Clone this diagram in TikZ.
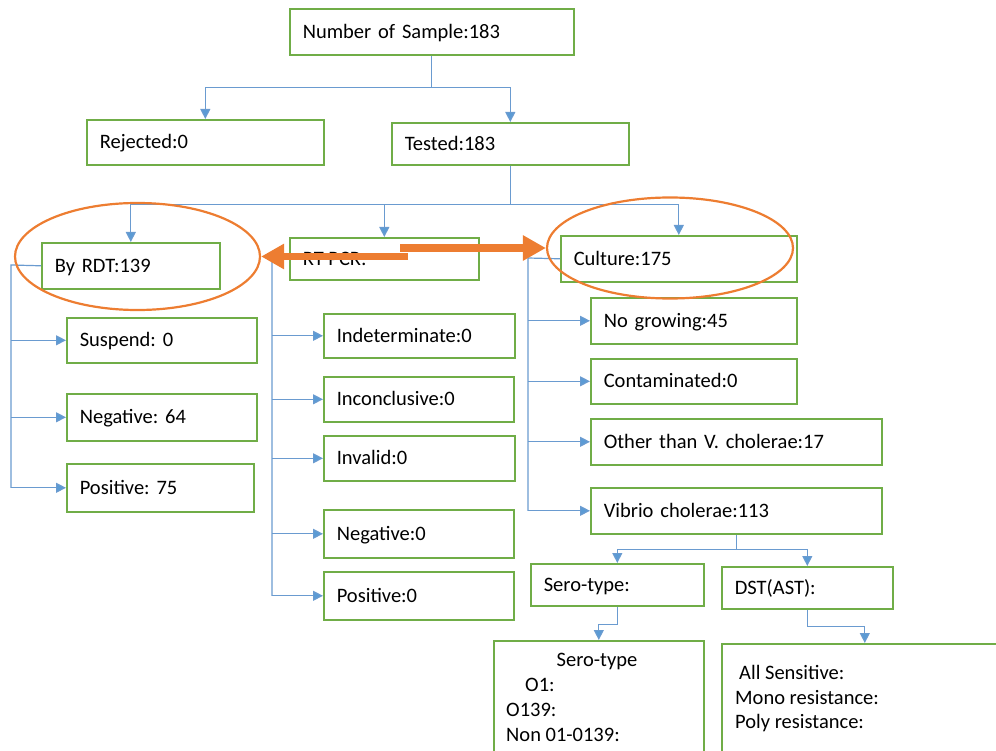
\documentclass[tikz,border=0pt]{standalone}
\usepackage{fontspec}
\setmainfont{Carlito}
\usetikzlibrary{arrows.meta,shapes.geometric,calc}
\definecolor{boxgreen}{HTML}{70AD47}
\definecolor{linkblue}{HTML}{6A9BD0}
\definecolor{tipblue}{HTML}{5B9BD5}
\definecolor{markorange}{HTML}{ED7D31}
\tikzset{
  lbl/.style={font=\fontsize{20.5}{25}\selectfont\frenchspacing},
  box/.style={lbl, draw=boxgreen, line width=1.6pt, fill=white, anchor=north west,
    align=left, inner xsep=13pt, inner ysep=0pt, text height=15.5pt, text depth=2.5pt},
  link/.style={draw=linkblue, line width=1.2pt},
  linkarrow/.style={link, -{Triangle[length=10pt,width=10pt,fill=tipblue]}},
  ring/.style={ellipse, draw=markorange, line width=2.2pt, inner sep=0pt},
  bigarrow/.style={draw=markorange, line width=7.5pt, -{Triangle[length=23pt,width=24pt]}},
  listtext/.style={lbl, anchor=base west, inner sep=0pt}
}
\begin{document}
\begin{tikzpicture}[x=1pt,y=-1pt]
\useasboundingbox (0,0) rectangle (996,751);
\clip (0,0) rectangle (996,751);

% boxes
\node[box, text width=258pt, minimum height=46pt] (sample) at (289,8) {Number of Sample:183};
\node[box, text width=211pt, minimum height=45pt] (rejected) at (86,119) {Rejected:0};
\node[box, text width=211pt, minimum height=42pt] (tested) at (391,122) {Tested:183};

\node[box, text width=152pt, minimum height=46pt] (rdt) at (41,242) {By RDT:139};
\node[box, text width=163pt, minimum height=42pt] (pcr) at (289,237) {RT-PCR:};
\node[box, text width=210pt, minimum height=46pt] (culture) at (560,235) {Culture:175};

\node[box, text width=164pt, minimum height=45pt] (suspend) at (66,317) {Suspend: 0};
\node[box, text width=164pt, minimum height=47pt] (negrdt) at (66,393) {Negative: 64};
\node[box, text width=161pt, minimum height=48pt] (posrdt) at (66,463) {Positive: 75};

\node[box, text width=165pt, minimum height=44pt] (indet) at (323,313) {Indeterminate:0};
\node[box, text width=164pt, minimum height=45pt] (inconc) at (323,376) {Inconclusive:0};
\node[box, text width=165pt, minimum height=45pt] (invalid) at (323,435) {Invalid:0};
\node[box, text width=164pt, minimum height=48pt] (negpcr) at (323,509) {Negative:0};
\node[box, text width=164pt, minimum height=48pt] (pospcr) at (323,571) {Positive:0};

\node[box, text width=180pt, minimum height=46pt] (nogrow) at (590,297) {No growing:45};
\node[box, text width=180pt, minimum height=45pt] (contam) at (590,358) {Contaminated:0};
\node[box, text width=265pt, minimum height=46pt] (other) at (590,418) {Other than V. cholerae:17};
\node[box, text width=265pt, minimum height=46pt] (vibrio) at (590,487) {Vibrio cholerae:113};

\node[box, text width=147pt, minimum height=42pt] (serotype) at (530,563) {Sero-type:};
\node[box, text width=145pt, minimum height=42pt] (dsttype) at (721,566) {DST(AST):};

\node[box, text width=184pt, minimum height=130pt] (serolist) at (493,640) {};
\node[box, text width=260pt, minimum height=130pt] (dstlist) at (721,643) {};

% contents of the two lower boxes
\node[lbl, anchor=base, inner sep=0pt] (serohead) at (597,666) {Sero-type};
\node[listtext] (seroA) at (525,691) {O1:};
\node[listtext] (seroB) at (506,716) {O139:};
\node[listtext] (seroC) at (506,741) {Non 01-0139:};
\node[listtext] (dstA) at (739,679) {All Sensitive:};
\node[listtext] (dstB) at (735,704) {Mono resistance:};
\node[listtext] (dstC) at (735,728) {Poly resistance:};

% top levels
\draw[link] (sample.south) -- ++(0,32) coordinate (j1);
\draw[linkarrow] (j1) -| (rejected.north);
\draw[linkarrow] (j1) -| (tested.north);

\draw[link] (tested.south) -- ++(0,39) coordinate (j2);
\draw[linkarrow] (j2) -| (rdt.north);
\draw[linkarrow] (j2) -| (pcr.north);
\draw[linkarrow] (j2) -| (culture.north);

% RDT branch
\coordinate (busrdt) at (11,265);
\draw[link] (rdt.west) -- (busrdt) -- (busrdt |- posrdt.west);
\draw[linkarrow] (busrdt |- suspend.west) -- (suspend.west);
\draw[linkarrow] (busrdt |- negrdt.west) -- (negrdt.west);
\draw[linkarrow] (busrdt |- posrdt.west) -- (posrdt.west);

% RT-PCR branch
\coordinate (buspcr) at (272,258);
\draw[link] (pcr.west) -- (buspcr) -- (buspcr |- pospcr.west);
\draw[linkarrow] (buspcr |- indet.west) -- (indet.west);
\draw[linkarrow] (buspcr |- inconc.west) -- (inconc.west);
\draw[linkarrow] (buspcr |- invalid.west) -- (invalid.west);
\draw[linkarrow] (buspcr |- negpcr.west) -- (negpcr.west);
\draw[linkarrow] (buspcr |- pospcr.west) -- (pospcr.west);

% culture branch
\coordinate (buscul) at (528,258);
\draw[link] (culture.west) -- (buscul) -- (buscul |- vibrio.west);
\draw[linkarrow] (buscul |- nogrow.west) -- (nogrow.west);
\draw[linkarrow] (buscul |- contam.west) -- (contam.west);
\draw[linkarrow] (buscul |- other.west) -- (other.west);
\draw[linkarrow] (buscul |- vibrio.west) -- (vibrio.west);

% Vibrio cholerae split
\draw[link] (vibrio.south) -- ++(0,15) coordinate (j3);
\draw[linkarrow] (j3) -| (serotype.north);
\draw[linkarrow] (j3) -| (dsttype.north);
\draw[linkarrow] (serotype.south) -- ++(0,18) -| (serolist.north);
\draw[linkarrow] (dsttype.south) -- ++(0,17) -| (dstlist.north);

% orange highlights
\node[ring, minimum width=245pt, minimum height=107pt] (ringrdt) at (137.5,256.5) {};
\node[ring, minimum width=246pt, minimum height=101pt] (ringcul) at (670,248) {};
\coordinate (splitL) at (408,256.5);
\coordinate (splitR) at (400,248);
\draw[bigarrow] (splitL) -- (ringrdt.east);
\draw[bigarrow] (splitR) -- (ringcul.west);
\end{tikzpicture}
\end{document}
